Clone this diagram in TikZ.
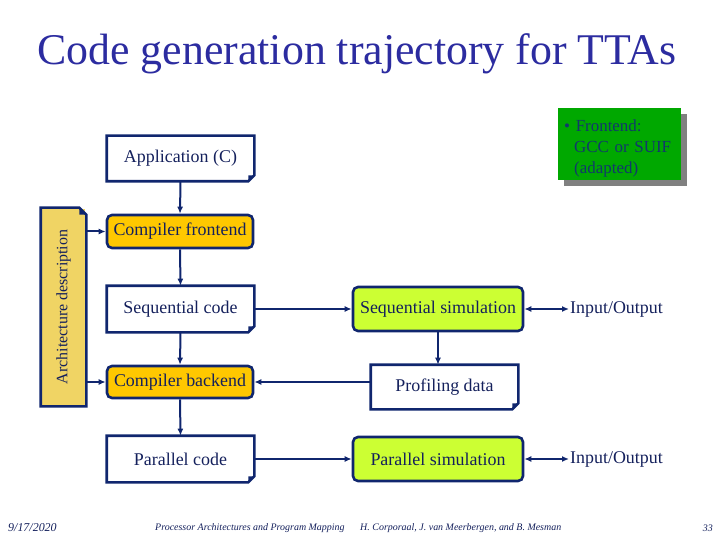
\documentclass[tikz,border=0pt]{standalone}
\usepackage{fontspec}
\setmainfont{Liberation Serif}
\usetikzlibrary{arrows.meta,shadows}
\definecolor{navy}{RGB}{16,38,110}
\definecolor{txt}{RGB}{20,32,92}
\definecolor{titleblue}{RGB}{44,44,160}
\definecolor{gold}{RGB}{255,200,0}
\definecolor{lightgold}{RGB}{240,212,100}
\definecolor{lime}{RGB}{204,255,51}
\definecolor{green}{RGB}{0,168,0}
\definecolor{greentxt}{RGB}{18,56,108}
\newcommand\foldBR[1]{%
  \draw[navy,line width=2.6bp,line join=miter] (#1.north west) -- (#1.north east) -- ([yshift=6bp]#1.south east) -- ([xshift=-6bp]#1.south east) -- (#1.south west) -- cycle;
  \fill[navy] ([yshift=6bp]#1.south east) -- ([xshift=-6bp]#1.south east) -- ([xshift=-6bp,yshift=6bp]#1.south east) -- cycle;}
\begin{document}
\begin{tikzpicture}[x=1bp,y=-1bp,
  box/.style={line width=2.6bp,inner sep=0pt,text=txt,font=\fontsize{18}{21}\selectfont},
  foldbox/.style={box,fill=white},
  roundbox/.style={box,draw=navy,rounded corners=5bp},
  conn/.style={draw=navy,line width=2bp,-{Latex[length=7bp,width=6bp]}},
  conn2/.style={draw=navy,line width=2bp,{Latex[length=7bp,width=6bp]}-{Latex[length=7bp,width=6bp]}},
  io/.style={anchor=west,inner sep=1bp,text=txt,font=\fontsize{18}{21}\selectfont},
  foot/.style={inner sep=0pt,text=txt,font=\itshape\fontsize{10}{12}\selectfont},
]
\useasboundingbox (0,0) rectangle (720,540);
% title
\node[text=titleblue,font=\fontsize{44}{50}\selectfont] (title) at (357,54) {Code generation trajectory for TTAs};
% green note
\node[anchor=north west,fill=green,minimum width=123bp,minimum height=72bp,inner xsep=0bp,inner ysep=0bp,text width=123bp,align=left,
  text=greentxt,font=\fontsize{17}{21}\selectfont,drop shadow={shadow xshift=6bp,shadow yshift=-6bp,fill=gray,opacity=1}] (note) at (558,108)
  {\rule{0pt}{21bp}\hspace*{6bp}\textbullet\ Frontend:\\\hspace*{16bp}GCC or SUIF\\\hspace*{16bp}(adapted)};
% left column
\node[foldbox,minimum width=145bp,minimum height=43bp] (app) at (180.5,158.5) {Application (C)};
\foldBR{app}
\node[roundbox,fill=gold,minimum width=146bp,minimum height=33bp] (front) at (180,231.5) {Compiler frontend};
\node[foldbox,minimum width=145bp,minimum height=44bp] (seq) at (180.5,309) {Sequential code};
\foldBR{seq}
\node[roundbox,fill=gold,minimum width=146bp,minimum height=32bp] (back) at (180,382) {Compiler backend};
\node[foldbox,minimum width=145bp,minimum height=44bp] (par) at (180.5,459) {Parallel code};
\foldBR{par}
% architecture description
\node[box,fill=lightgold,minimum width=43bp,minimum height=196bp,font=\fontsize{16}{19}\selectfont] (arch) at (63.5,307) {\rotatebox{90}{Architecture description}};
\draw[navy,line width=2.6bp,line join=miter] (arch.south west) -- (arch.north west) -- ([xshift=-7bp]arch.north east) -- ([yshift=-7bp]arch.north east) -- (arch.south east) -- cycle;
\fill[navy] ([xshift=-7bp]arch.north east) -- ([yshift=-7bp]arch.north east) -- ([xshift=-7bp,yshift=-7bp]arch.north east) -- cycle;
% right column
\node[roundbox,fill=lime,minimum width=170bp,minimum height=44bp] (seqsim) at (438,309) {Sequential simulation};
\node[foldbox,minimum width=145bp,minimum height=42bp] (prof) at (444.5,387) {Profiling data};
\foldBR{prof}
\node[roundbox,fill=lime,minimum width=170bp,minimum height=44bp] (parsim) at (438,459) {Parallel simulation};
\node[io] (io1) at (569,309) {Input/Output};
\node[io] (io2) at (569,459) {Input/Output};
% connectors
\draw[conn] (app.south) -- (front.north);
\draw[conn] (front.south) -- (seq.north);
\draw[conn] (seq.south) -- (back.north);
\draw[conn] (back.south) -- (par.north);
\draw[conn] (arch.east |- front.west) -- (front.west);
\draw[conn] (arch.east |- back.west) -- (back.west);
\draw[conn] (seq.east) -- (seqsim.west);
\draw[conn] (seqsim.south) -- (seqsim.south |- prof.north);
\draw[conn] (prof.west |- back.east) -- (back.east);
\draw[conn] (par.east) -- (parsim.west);
\draw[conn2] (seqsim.east) -- (io1.west);
\draw[conn2] (parsim.east) -- (io2.west);
% footer
\node[foot,anchor=west,font=\itshape\fontsize{12}{14}\selectfont] (date) at (8,528) {9/17/2020};
\node[foot,anchor=west] (course) at (155,528) {Processor Architectures and Program Mapping};
\node[foot,anchor=west] (authors) at (360,528) {H. Corporaal, J. van Meerbergen, and B. Mesman};
\node[foot,anchor=east] (page) at (713,528) {33};
\end{tikzpicture}
\end{document}
